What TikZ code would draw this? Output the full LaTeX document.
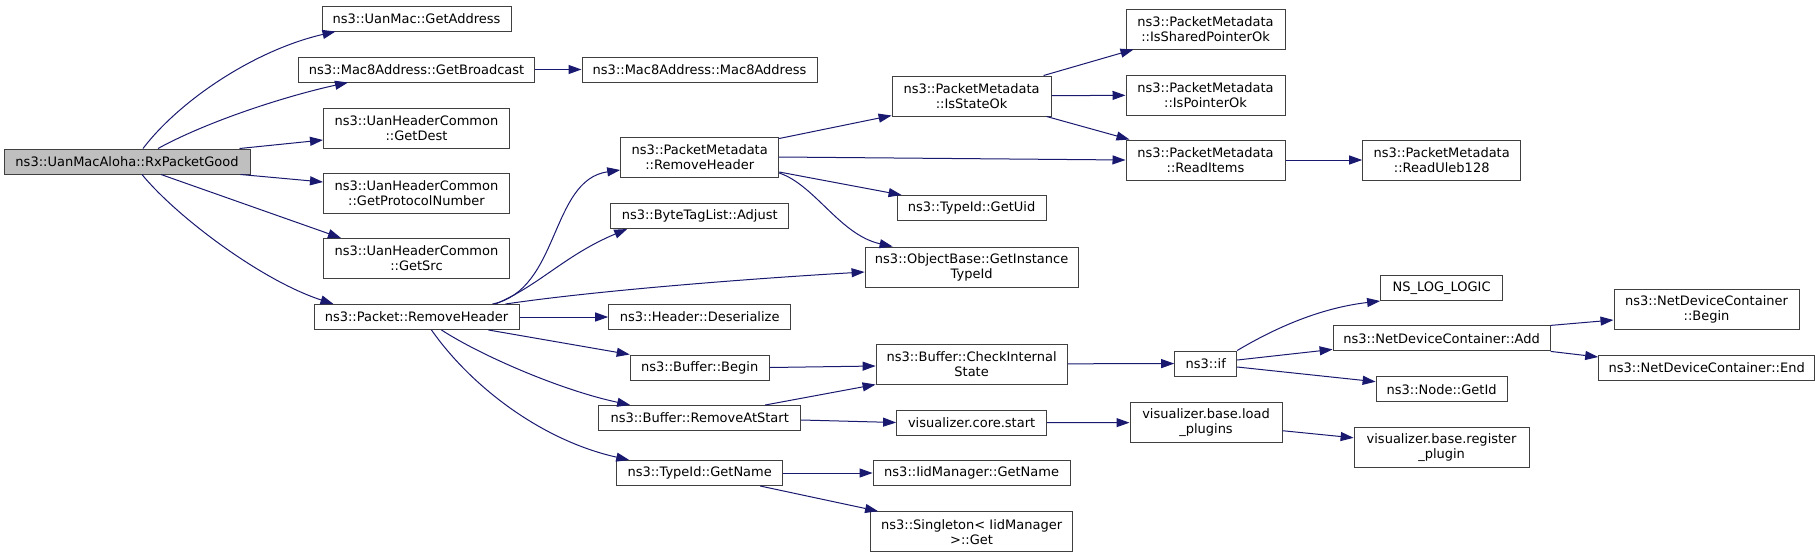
\documentclass[tikz,border=0pt]{standalone}
\usepackage{fontspec}
\setmainfont{DejaVu Sans}
\usetikzlibrary{arrows.meta}
\definecolor{callblue}{RGB}{25,25,112}
\definecolor{rootgray}{RGB}{191,191,191}

\begin{document}
\begin{tikzpicture}[>={Triangle[length=13pt,width=9pt]}, x=1pt, y=-1pt,
  fn/.style={draw=black!75, line width=1pt, rectangle, inner sep=0pt, align=center, minimum height=25pt, font=\fontsize{13}{15}\selectfont},
  call/.style={->, color=callblue, line width=1pt}]
\useasboundingbox (0,0) rectangle (1820,558);
\node[fn, fill=rootgray, minimum width=246pt] (Rx) at (127,161.5) {ns3::UanMacAloha::RxPacketGood};
\node[fn, minimum width=189pt] (GA) at (416.5,18.5) {ns3::UanMac::GetAddress};
\node[fn, minimum width=236pt] (GB) at (416.5,69.5) {ns3::Mac8Address::GetBroadcast};
\node[fn, minimum width=235pt] (M8) at (699.5,69.5) {ns3::Mac8Address::Mac8Address};
\node[fn, minimum width=186pt, minimum height=40pt] (GD) at (416.5,128) {ns3::UanHeaderCommon\\::GetDest};
\node[fn, minimum width=186pt, minimum height=40pt] (GP) at (416.5,193) {ns3::UanHeaderCommon\\::GetProtocolNumber};
\node[fn, minimum width=186pt, minimum height=40pt] (GS) at (416.5,258.5) {ns3::UanHeaderCommon\\::GetSrc};
\node[fn, minimum width=205pt] (PR) at (416.5,317) {ns3::Packet::RemoveHeader};
\node[fn, minimum width=158pt, minimum height=40pt] (MR) at (699.7,157) {ns3::PacketMetadata\\::RemoveHeader};
\node[fn, minimum width=178pt] (BA) at (699.7,216) {ns3::ByteTagList::Adjust};
\node[fn, minimum width=182pt] (HD) at (699.7,317) {ns3::Header::Deserialize};
\node[fn, minimum width=139pt] (BB) at (699.7,367.5) {ns3::Buffer::Begin};
\node[fn, minimum width=202pt] (RS) at (699.7,418) {ns3::Buffer::RemoveAtStart};
\node[fn, minimum width=166pt] (GN) at (699.7,473) {ns3::TypeId::GetName};
\node[fn, minimum width=159pt, minimum height=40pt] (SO) at (971.6,96) {ns3::PacketMetadata\\::IsStateOk};
\node[fn, minimum width=149pt] (GU) at (971.6,208) {ns3::TypeId::GetUid};
\node[fn, minimum width=213pt, minimum height=40pt] (OI) at (971.6,267) {ns3::ObjectBase::GetInstance\\TypeId};
\node[fn, minimum width=191pt, minimum height=40pt] (CS) at (971.6,364) {ns3::Buffer::CheckInternal\\State};
\node[fn, minimum width=150pt] (VS) at (971.6,422.5) {visualizer.core.start};
\node[fn, minimum width=197pt] (IG) at (971.6,473) {ns3::IidManager::GetName};
\node[fn, minimum width=202pt, minimum height=40pt] (SG) at (971.6,531.7) {ns3::Singleton< IidManager\\>::Get};
\node[fn, minimum width=159pt, minimum height=40pt] (SP) at (1205.5,29) {ns3::PacketMetadata\\::IsSharedPointerOk};
\node[fn, minimum width=159pt, minimum height=40pt] (PO) at (1205.5,95) {ns3::PacketMetadata\\::IsPointerOk};
\node[fn, minimum width=159pt, minimum height=40pt] (RI) at (1205.5,160) {ns3::PacketMetadata\\::ReadItems};
\node[fn, minimum width=62pt] (IF) at (1205.7,363.5) {ns3::if};
\node[fn, minimum width=152pt, minimum height=40pt] (LP) at (1206,422.7) {visualizer.base.load\\\_plugins};
\node[fn, minimum width=158pt, minimum height=40pt] (RU) at (1441.7,160) {ns3::PacketMetadata\\::ReadUleb128};
\node[fn, minimum width=122pt] (NL) at (1441.6,288) {NS\_LOG\_LOGIC};
\node[fn, minimum width=217pt] (NA) at (1441.6,338.4) {ns3::NetDeviceContainer::Add};
\node[fn, minimum width=131pt] (NI) at (1441.6,389.4) {ns3::Node::GetId};
\node[fn, minimum width=175pt, minimum height=40pt] (RP) at (1441.6,447.8) {visualizer.base.register\\\_plugin};
\node[fn, minimum width=185pt, minimum height=40pt] (NB) at (1706.5,309) {ns3::NetDeviceContainer\\::Begin};
\node[fn, minimum width=216pt] (NE) at (1706.7,368) {ns3::NetDeviceContainer::End};

\draw[call] ([xshift=16]Rx.north) .. controls (180,100) and (255,50) .. ([xshift=14]GA.south west);
\draw[call] ([xshift=31]Rx.north) .. controls (210,120) and (290,95) .. ([xshift=50]GB.south west);
\draw[call] ([xshift=-11]Rx.north east) -- ([yshift=-12]GD.west);
\draw[call] ([xshift=-10]Rx.south east) -- ([yshift=11]GP.west);
\draw[call] ([xshift=34]Rx.south) -- ([xshift=18]GS.north west);
\draw[call] ([xshift=15]Rx.south) .. controls (175,215) and (260,280) .. ([xshift=20]PR.north west);
\draw[call] (GB) -- (M8);
\draw[call] ([xshift=-27]PR.north east) .. controls (560,290) and (550,180) .. ([yshift=-13]MR.west);
\draw[call] ([xshift=-24]PR.north east) .. controls (540,285) and (565,255) .. ([xshift=17]BA.south west);
\draw[call] ([xshift=-14]PR.north east) .. controls (600,290) and (760,278) .. ([yshift=-5]OI.west);
\draw[call] (PR) -- (HD);
\draw[call] ([xshift=-31]PR.south east) -- (BB.north west);
\draw[call] ([xshift=25]PR.south) .. controls (480,355) and (560,390) .. ([xshift=32]RS.north west);
\draw[call] ([xshift=15]PR.south) .. controls (470,385) and (540,440) .. ([xshift=13]GN.north west);
\draw[call] ([yshift=-2]MR.north east) -- ([yshift=1]SO.south west);
\draw[call] (MR.east) -- (RI.west);
\draw[call] ([yshift=-15]MR.east) -- ([xshift=5]GU.north west);
\draw[call] ([yshift=-16]MR.east) .. controls (815,185) and (840,235) .. ([xshift=28]OI.north west);
\draw[call] ([xshift=-8]SO.north east) -- ([xshift=8]SP.south west);
\draw[call] (SO) -- (PO);
\draw[call] ([xshift=-5]SO.south east) -- ([xshift=4]RI.north west);
\draw[call] (RI) -- (RU);
\draw[call] (BB.east) -- ([yshift=-2]CS.west);
\draw[call] ([xshift=-36]RS.north east) -- (CS.south west);
\draw[call] ([yshift=-2]RS.east) -- (VS.west);
\draw[call] (GN) -- (IG);
\draw[call] ([xshift=-23]GN.south east) -- ([xshift=8]SG.north west);
\draw[call] (CS) -- (IF);
\draw[call] (VS) -- (LP);
\draw[call] ([yshift=-8]LP.east) -- ([yshift=10]RP.west);
\draw[call] (IF.north east) .. controls (1275,328) and (1320,308) .. (NL.south west);
\draw[call] ([yshift=3.5]IF.east) -- ([yshift=2]NA.south west);
\draw[call] ([yshift=-3.5]IF.east) -- ([yshift=7.7]NI.west);
\draw[call] (NA.north east) -- ([yshift=-11]NB.west);
\draw[call] (NA.south east) -- ([yshift=-2]NE.north west);
\end{tikzpicture}
\end{document}
